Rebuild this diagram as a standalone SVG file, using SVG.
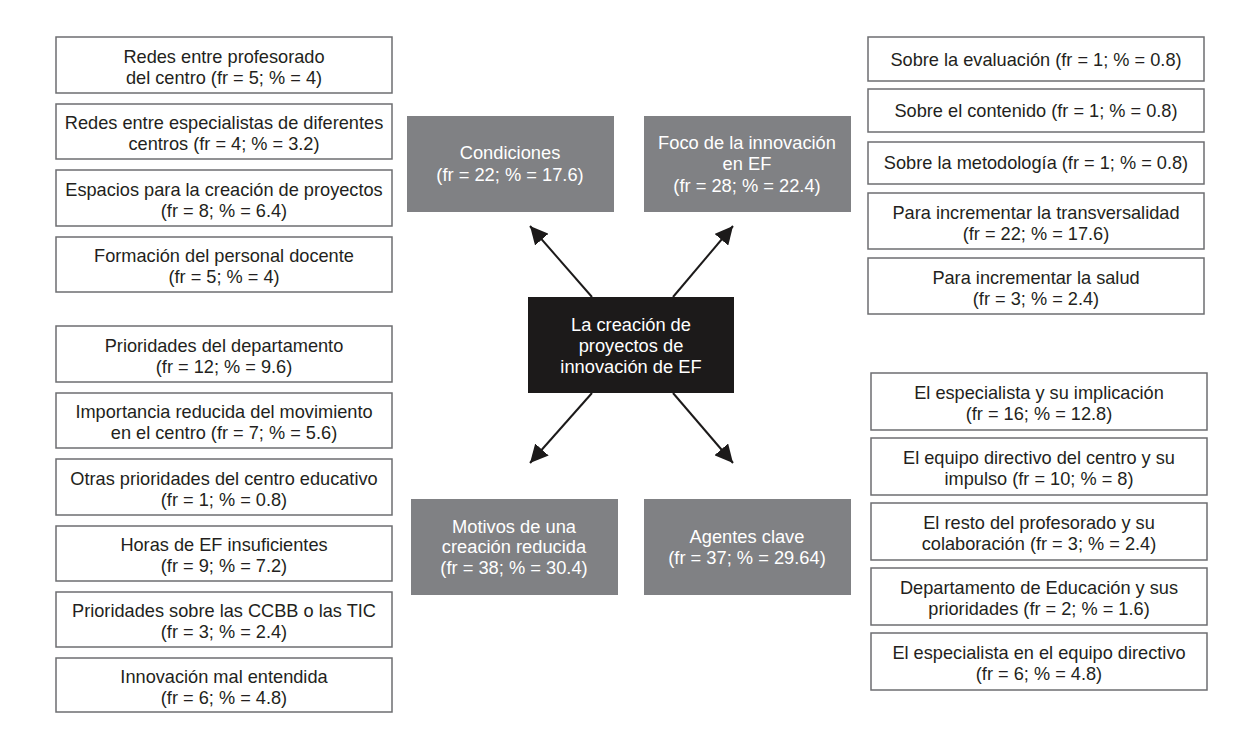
<svg xmlns="http://www.w3.org/2000/svg" width="1260" height="750" viewBox="0 0 1260 750">
<style>
.wb{fill:#fff;stroke:#6d6e71;stroke-width:1.5}
.gb{fill:#808184}
.cb{fill:#1c1a1a}
.t{font-family:"Liberation Sans",Arial,sans-serif;font-size:18.2px;fill:#231f20;text-anchor:middle}
.tw{font-family:"Liberation Sans",Arial,sans-serif;font-size:18.3px;fill:#fff;text-anchor:middle}
.ar{stroke:#1c1a1a;stroke-width:2;fill:none;marker-end:url(#ah)}
</style>
<defs>
<marker id="ah" markerUnits="userSpaceOnUse" markerWidth="20" markerHeight="18" refX="18" refY="9" orient="auto">
<path d="M0,0 L18,9 L0,18 z" fill="#1c1a1a"/>
</marker>
</defs>
<rect width="1260" height="750" fill="#fff"/>
<g id="connectors">
<line class="ar" x1="592" y1="297" x2="530" y2="226"/>
<line class="ar" x1="673" y1="297" x2="733" y2="226"/>
<line class="ar" x1="592" y1="393" x2="530" y2="463"/>
<line class="ar" x1="673" y1="393" x2="733" y2="463"/>
</g>
<g id="center"><rect class="cb" x="528" y="297" width="206" height="96"/>
<text class="tw" x="631" y="331">La creación de</text><text class="tw" x="631" y="352">proyectos de</text><text class="tw" x="631" y="373">innovación de EF</text></g>
<g id="condiciones"><rect class="gb" x="407" y="116" width="207" height="96"/>
<text class="tw" x="510" y="159">Condiciones</text><text class="tw" x="510" y="181">(fr = 22; % = 17.6)</text></g>
<g id="foco"><rect class="gb" x="644" y="116" width="207" height="96"/>
<text class="tw" x="747" y="149">Foco de la innovación</text><text class="tw" x="747" y="170">en EF</text><text class="tw" x="747" y="192">(fr = 28; % = 22.4)</text></g>
<g id="motivos"><rect class="gb" x="411" y="499" width="207" height="96"/>
<text class="tw" x="514" y="533">Motivos de una</text><text class="tw" x="514" y="553">creación reducida</text><text class="tw" x="514" y="574">(fr = 38; % = 30.4)</text></g>
<g id="agentes"><rect class="gb" x="644" y="499" width="207" height="96"/>
<text class="tw" x="747" y="543">Agentes clave</text><text class="tw" x="747" y="564">(fr = 37; % = 29.64)</text></g>

<g id="l1"><rect class="wb" x="56" y="37" width="336" height="56"/><text class="t" x="224" y="63">Redes entre profesorado</text><text class="t" x="224" y="84">del centro (fr = 5; % = 4)</text></g>
<g id="l2"><rect class="wb" x="56" y="104" width="336" height="55"/><text class="t" x="224" y="129">Redes entre especialistas de diferentes</text><text class="t" x="224" y="150">centros (fr = 4; % = 3.2)</text></g>
<g id="l3"><rect class="wb" x="56" y="170" width="336" height="56"/><text class="t" x="224" y="196">Espacios para la creación de proyectos</text><text class="t" x="224" y="217">(fr = 8; % = 6.4)</text></g>
<g id="l4"><rect class="wb" x="56" y="237" width="336" height="55"/><text class="t" x="224" y="262">Formación del personal docente</text><text class="t" x="224" y="283">(fr = 5; % = 4)</text></g>

<g id="m1"><rect class="wb" x="56" y="326" width="336" height="56"/><text class="t" x="224" y="352">Prioridades del departamento</text><text class="t" x="224" y="373">(fr = 12; % = 9.6)</text></g>
<g id="m2"><rect class="wb" x="56" y="393" width="336" height="55"/><text class="t" x="224" y="418">Importancia reducida del movimiento</text><text class="t" x="224" y="439">en el centro (fr = 7; % = 5.6)</text></g>
<g id="m3"><rect class="wb" x="56" y="459" width="336" height="56"/><text class="t" x="224" y="485">Otras prioridades del centro educativo</text><text class="t" x="224" y="506">(fr = 1; % = 0.8)</text></g>
<g id="m4"><rect class="wb" x="56" y="526" width="336" height="55"/><text class="t" x="224" y="551">Horas de EF insuficientes</text><text class="t" x="224" y="572">(fr = 9; % = 7.2)</text></g>
<g id="m5"><rect class="wb" x="56" y="592" width="336" height="55"/><text class="t" x="224" y="617">Prioridades sobre las CCBB o las TIC</text><text class="t" x="224" y="638">(fr = 3; % = 2.4)</text></g>
<g id="m6"><rect class="wb" x="56" y="658" width="336" height="54"/><text class="t" x="224" y="683">Innovación mal entendida</text><text class="t" x="224" y="704">(fr = 6; % = 4.8)</text></g>

<g id="r1"><rect class="wb" x="868" y="37" width="336" height="44"/><text class="t" x="1036" y="66">Sobre la evaluación (fr = 1; % = 0.8)</text></g>
<g id="r2"><rect class="wb" x="868" y="89" width="336" height="43"/><text class="t" x="1036" y="117">Sobre el contenido (fr = 1; % = 0.8)</text></g>
<g id="r3"><rect class="wb" x="868" y="142" width="336" height="42"/><text class="t" x="1036" y="169">Sobre la metodología (fr = 1; % = 0.8)</text></g>
<g id="r4"><rect class="wb" x="868" y="193" width="336" height="56"/><text class="t" x="1036" y="219">Para incrementar la transversalidad</text><text class="t" x="1036" y="240">(fr = 22; % = 17.6)</text></g>
<g id="r5"><rect class="wb" x="868" y="258" width="336" height="56"/><text class="t" x="1036" y="284">Para incrementar la salud</text><text class="t" x="1036" y="305">(fr = 3; % = 2.4)</text></g>

<g id="a1"><rect class="wb" x="871" y="373" width="336" height="57"/><text class="t" x="1039" y="399">El especialista y su implicación</text><text class="t" x="1039" y="420">(fr = 16; % = 12.8)</text></g>
<g id="a2"><rect class="wb" x="871" y="438" width="336" height="57"/><text class="t" x="1039" y="464">El equipo directivo del centro y su</text><text class="t" x="1039" y="485">impulso (fr = 10; % = 8)</text></g>
<g id="a3"><rect class="wb" x="871" y="503" width="336" height="57"/><text class="t" x="1039" y="529">El resto del profesorado y su</text><text class="t" x="1039" y="550">colaboración (fr = 3; % = 2.4)</text></g>
<g id="a4"><rect class="wb" x="871" y="568" width="336" height="57"/><text class="t" x="1039" y="594">Departamento de Educación y sus</text><text class="t" x="1039" y="615">prioridades (fr = 2; % = 1.6)</text></g>
<g id="a5"><rect class="wb" x="871" y="633" width="336" height="57"/><text class="t" x="1039" y="659">El especialista en el equipo directivo</text><text class="t" x="1039" y="680">(fr = 6; % = 4.8)</text></g>
</svg>
